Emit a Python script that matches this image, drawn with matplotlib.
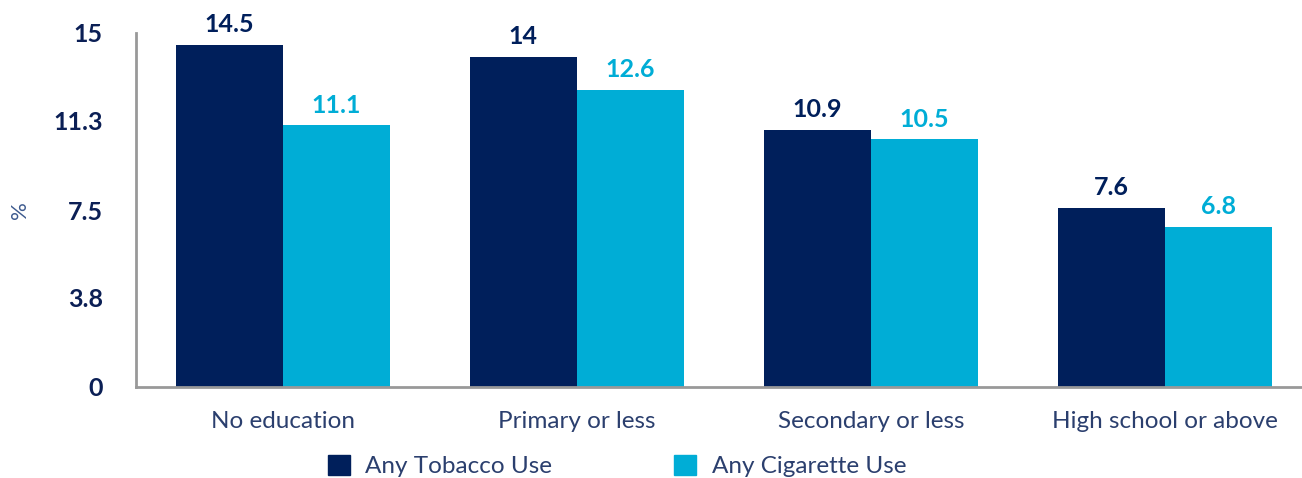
"""Tobacco and cigarette use by education level (grouped bars)."""

import matplotlib.pyplot as plt
import numpy as np
from matplotlib.patches import Patch

categories = ["No education", "Primary or less", "Secondary or less", "High school or above"]
tobacco = [14.5, 14, 10.9, 7.6]
cigarette = [11.1, 12.6, 10.5, 6.8]
series_names = ["Any Tobacco Use", "Any Cigarette Use"]
yticks = [0, 3.8, 7.5, 11.3, 15]
ytick_labels = ["0", "3.8", "7.5", "11.3", "15"]

DARK = "#001F5B"
LIGHT = "#00ADD6"
TEXT = "#0B1F55"
SOFT = "#2B3F6E"

plt.rcParams["font.family"] = ["Lato", "DejaVu Sans"]


def main() -> None:
    fig = plt.figure(figsize=(13.02, 4.78), dpi=100)
    ax = fig.add_axes([136 / 1302, 91 / 478, 1 - 136 / 1302, (387 - 33) / 478])

    x = np.arange(len(categories))
    w = 0.365
    b1 = ax.bar(x - w / 2, tobacco, w, color=DARK)
    b2 = ax.bar(x + w / 2, cigarette, w, color=LIGHT)

    for bars, vals, col in ((b1, tobacco, DARK), (b2, cigarette, LIGHT)):
        for rect, v in zip(bars, vals):
            ax.annotate(f"{v:g}", (rect.get_x() + rect.get_width() / 2, v),
                        xytext=(0, 6), textcoords="offset points",
                        ha="center", va="bottom", fontsize=18,
                        fontweight="bold", color=col)

    ax.set_xlim(-0.5, 3.466)
    ax.set_ylim(0, 15)
    ax.set_xticks(x)
    ax.set_xticklabels(categories, fontsize=17.5, color=SOFT)
    ax.set_yticks(yticks)
    ax.set_yticklabels(ytick_labels, fontsize=18, fontweight="bold", color=TEXT)
    ax.tick_params(axis="both", length=0)
    ax.tick_params(axis="x", pad=17)
    ax.tick_params(axis="y", pad=24)
    ax.set_ylabel("%", fontsize=16, color="#3D5A8E")
    ax.yaxis.set_label_coords(-0.091, 0.5)

    for side in ("top", "right"):
        ax.spines[side].set_visible(False)
    for side in ("left", "bottom"):
        ax.spines[side].set_color("#999999")
        ax.spines[side].set_linewidth(2)

    handles = [Patch(color=DARK, label=series_names[0]),
               Patch(color=LIGHT, label=series_names[1])]
    leg = fig.legend(handles=handles, loc="center", ncol=2,
                     bbox_to_anchor=(617 / 1302, 1 - 466 / 478),
                     frameon=False, fontsize=17.5, handlelength=0.9,
                     handleheight=0.9, handletextpad=0.65, columnspacing=5.0)
    for t in leg.get_texts():
        t.set_color(SOFT)

    fig.savefig("out.png", dpi=100)


if __name__ == "__main__":
    main()
